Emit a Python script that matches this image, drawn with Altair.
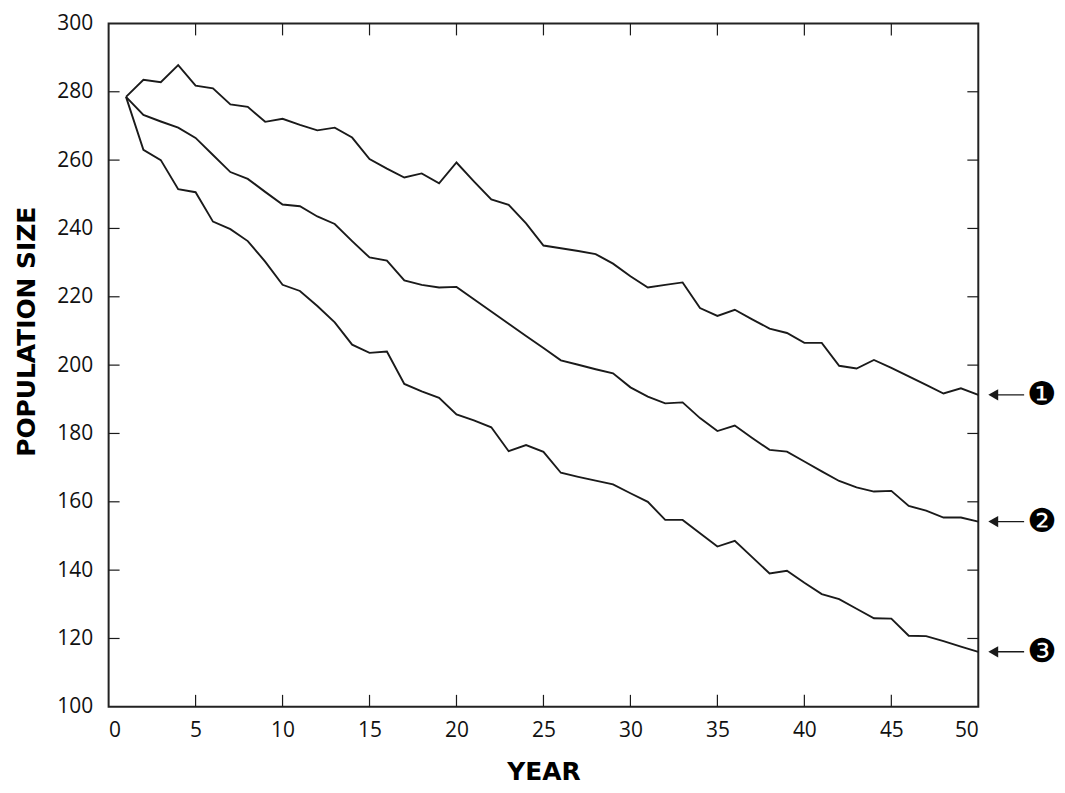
import altair as alt
import pandas as pd

years = list(range(1, 51))
pop1 = [278.5, 283.5, 282.8, 287.8, 281.8, 281.0, 276.3, 275.6, 271.2, 272.1,
        270.3, 268.7, 269.5, 266.6, 260.3, 257.5, 254.9, 256.1, 253.2, 259.3,
        253.8, 248.5, 246.9, 241.5, 235.0, 234.2, 233.4, 232.5, 229.7, 226.0,
        222.7, 223.5, 224.2, 216.7, 214.4, 216.2, 213.4, 210.7, 209.4, 206.5,
        206.5, 199.8, 199.0, 201.5, 199.2, 196.7, 194.2, 191.7, 193.2, 191.3]
pop2 = [278.5, 273.2, 271.3, 269.5, 266.5, 261.5, 256.5, 254.5, 250.7, 247.0,
        246.5, 243.5, 241.3, 236.3, 231.5, 230.6, 224.8, 223.5, 222.7, 222.9,
        219.3, 215.7, 212.1, 208.5, 205.0, 201.4, 200.1, 198.8, 197.6, 193.5,
        190.8, 188.8, 189.1, 184.5, 180.7, 182.3, 178.7, 175.2, 174.7, 171.8,
        168.9, 166.1, 164.2, 163.0, 163.2, 158.8, 157.4, 155.4, 155.4, 154.2]
pop3 = [278.5, 263.0, 260.0, 251.5, 250.6, 242.0, 239.8, 236.3, 230.3, 223.5,
        221.7, 217.3, 212.5, 206.0, 203.6, 204.0, 194.5, 192.3, 190.4, 185.6,
        183.8, 181.8, 174.8, 176.6, 174.6, 168.5, 167.3, 166.2, 165.1, 162.5,
        160.0, 154.7, 154.7, 150.8, 146.9, 148.6, 143.8, 139.0, 139.8, 136.3,
        133.0, 131.5, 128.7, 125.9, 125.8, 120.8, 120.7, 119.2, 117.6, 116.1]
series_ids = ["1", "2", "3"]
markers = ["\u2776", "\u2777", "\u2778"]
x_ticks = [0, 5, 10, 15, 20, 25, 30, 35, 40, 45, 50]
y_ticks = [100, 120, 140, 160, 180, 200, 220, 240, 260, 280, 300]

W, H = 873, 686
INK = "#1a1a1a"

rows = []
for sid, vals in zip(series_ids, [pop1, pop2, pop3]):
    for yr, v in zip(years, vals):
        rows.append({"year": yr, "pop": v, "series": sid})
df = pd.DataFrame(rows)

ends = pd.DataFrame({"series": series_ids, "pop": [pop1[-1], pop2[-1], pop3[-1]],
                     "mark": markers})
xt = pd.DataFrame({"v": x_ticks[1:-1]})
yt = pd.DataFrame({"v": y_ticks[1:-1]})

xs = alt.Scale(domain=[0, 50], nice=False, zero=False)
ys = alt.Scale(domain=[100, 300], nice=False, zero=False)

lines = alt.Chart(df).mark_line(color=INK, strokeWidth=1.9).encode(
    x=alt.X("year:Q", scale=xs, title="YEAR",
            axis=alt.Axis(values=x_ticks, labelPadding=13, titlePadding=19)),
    y=alt.Y("pop:Q", scale=ys, title="POPULATION SIZE",
            axis=alt.Axis(values=y_ticks, labelPadding=16, titlePadding=17,
                          titleY=H / 2 - 34)),
    detail="series:N",
)

tick_l = alt.Chart(yt).mark_rule(color=INK, strokeWidth=1.2).encode(
    y=alt.Y("v:Q", scale=ys), x=alt.value(0), x2=alt.value(11))
tick_r = alt.Chart(yt).mark_rule(color=INK, strokeWidth=1.2).encode(
    y=alt.Y("v:Q", scale=ys), x=alt.value(W - 11), x2=alt.value(W))
tick_b = alt.Chart(xt).mark_rule(color=INK, strokeWidth=1.2).encode(
    x=alt.X("v:Q", scale=xs), y=alt.value(H), y2=alt.value(H - 12))
tick_t = alt.Chart(xt).mark_rule(color=INK, strokeWidth=1.2).encode(
    x=alt.X("v:Q", scale=xs), y=alt.value(0), y2=alt.value(12))

arrow_shaft = alt.Chart(ends).mark_rule(color=INK, strokeWidth=1.4).encode(
    y=alt.Y("pop:Q", scale=ys), x=alt.value(W + 14), x2=alt.value(W + 46))
arrow_head = alt.Chart(ends).mark_point(shape="triangle-left", filled=True,
                                        color=INK, size=130, opacity=1).encode(
    y=alt.Y("pop:Q", scale=ys), x=alt.value(W + 15))
labels = alt.Chart(ends).mark_text(font="DejaVu Sans", fontSize=33, color="#000",
                                   align="center", baseline="middle").encode(
    y=alt.Y("pop:Q", scale=ys), x=alt.value(W + 64), text="mark:N")

chart = alt.layer(lines, tick_l, tick_r, tick_b, tick_t,
                  arrow_shaft, arrow_head, labels).properties(
    width=W, height=H,
    padding={"left": 6, "top": 3, "right": 0, "bottom": 0},
).configure_view(
    stroke="#222", strokeWidth=2
).configure_axis(
    grid=False, ticks=False, domain=False,
    labelFont="Open Sans", labelFontSize=21, labelColor="#111",
    titleFont="DejaVu Sans", titleFontWeight="bold", titleFontSize=25,
    titleColor="#000",
)

chart.save("out.html", embed_options={"renderer": "svg", "actions": False})
